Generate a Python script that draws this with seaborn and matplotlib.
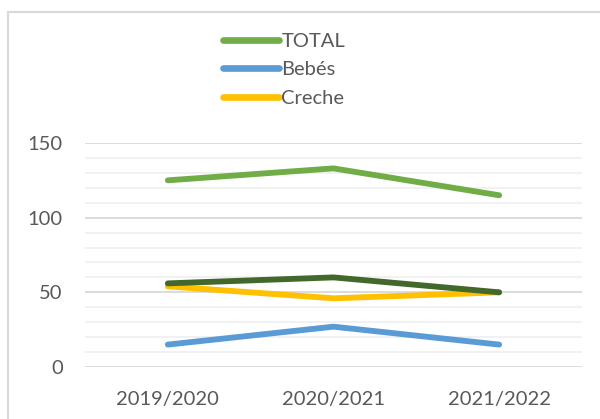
import pandas as pd
import matplotlib
matplotlib.use("Agg")
import matplotlib.pyplot as plt
import seaborn as sns
from matplotlib.lines import Line2D
from matplotlib.patches import Rectangle

years = ["2019/2020", "2020/2021", "2021/2022"]
total = [125, 133, 115]
bebes = [15, 27, 15]
creche = [54, 46, 50]
pre_escolar = [56, 60, 50]

series = {"TOTAL": total, "Bebés": bebes, "Creche": creche, "Pré-escolar": pre_escolar}
colors = {"TOTAL": "#70ad47", "Bebés": "#5b9bd5", "Creche": "#ffc000", "Pré-escolar": "#43682b"}

records = []
for name, vals in series.items():
    for i, v in enumerate(vals):
        records.append({"ano": years[i], "serie": name, "valor": v})
df = pd.DataFrame(records)

sns.set_style("white")
plt.rcParams["font.family"] = ["Lato", "DejaVu Sans"]

fig = plt.figure(figsize=(6, 4.19), dpi=100)
ax = fig.add_axes([85 / 600, 1 - 367 / 419, 497 / 600, 224 / 419])

sns.lineplot(data=df, x="ano", y="valor", hue="serie", palette=colors,
             hue_order=list(series.keys()), linewidth=4.2, sort=False,
             solid_capstyle="round", legend=False, ax=ax, zorder=3)

ax.set_xlim(-0.5, 2.5)
ax.set_ylim(0, 150)
ax.set_yticks([0, 50, 100, 150])
ax.set_yticks(range(0, 151, 10), minor=True)
ax.grid(which="major", axis="y", color="#d9d9d9", linewidth=1.3, zorder=0)
ax.grid(which="minor", axis="y", color="#f0f0f0", linewidth=1.3, zorder=0)
ax.grid(axis="x", visible=False)
for s in ax.spines.values():
    s.set_visible(False)
ax.tick_params(which="both", length=0)
ax.tick_params(axis="y", labelsize=14.5, labelcolor="#595959", pad=16)
ax.tick_params(axis="x", labelsize=14.5, labelcolor="#595959", pad=17)
ax.set_xlabel("")
ax.set_ylabel("")

handles = [Line2D([], [], color=colors[n], linewidth=4.8, solid_capstyle="round")
           for n in ["TOTAL", "Bebés", "Creche"]]
fig.legend(handles, ["TOTAL", "Bebés", "Creche"], loc="upper left",
           bbox_to_anchor=(223 / 600, 1 - 33 / 419), frameon=False,
           fontsize=14.5, labelcolor="#595959", handlelength=2.8,
           handletextpad=0.1, labelspacing=0.56, borderpad=0, borderaxespad=0)

fig.add_artist(Rectangle((8 / 600, -0.05), 1.0, 1.05 - 12 / 419,
                         transform=fig.transFigure, fill=False,
                         edgecolor="#d9d9d9", linewidth=1.5))

fig.savefig("out.png", dpi=100)
